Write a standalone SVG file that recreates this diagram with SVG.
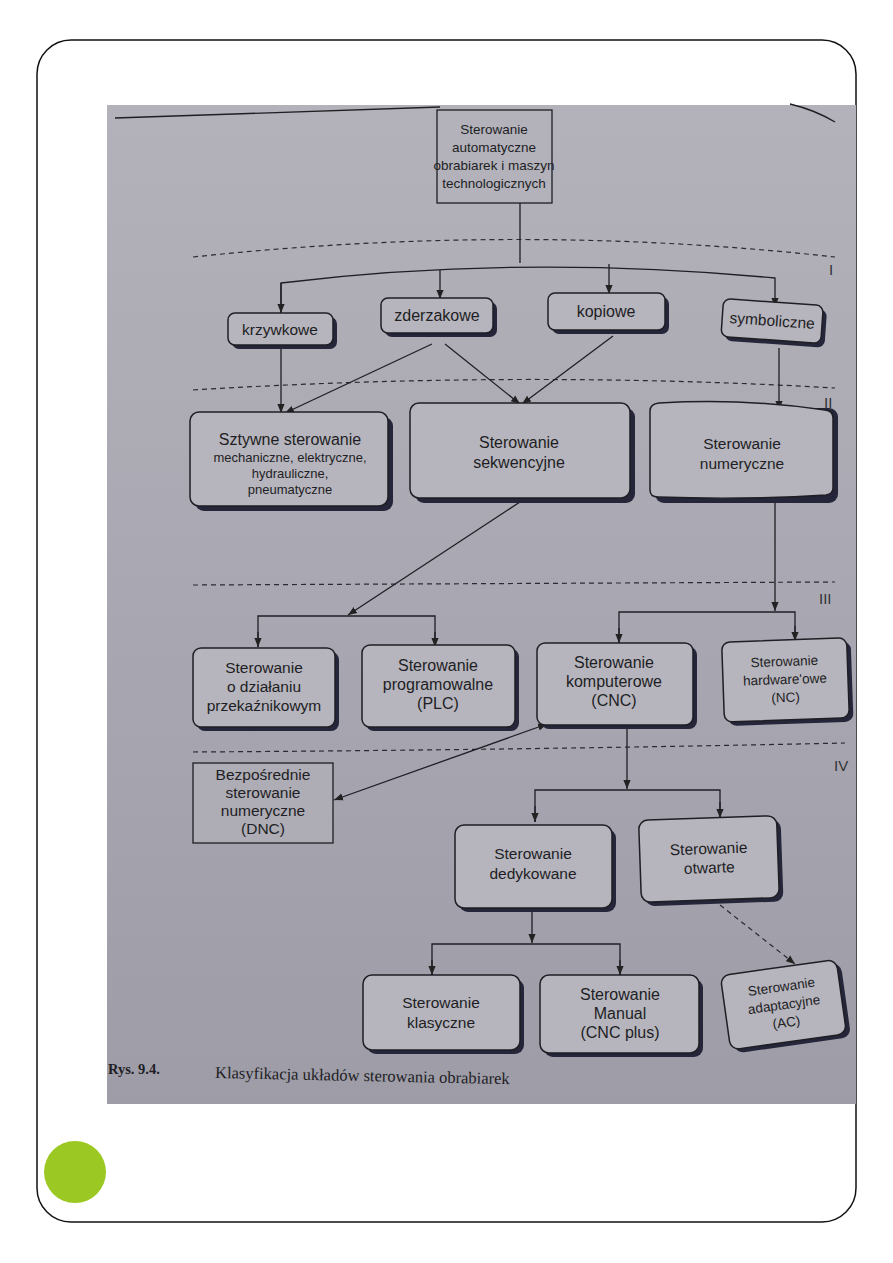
<svg xmlns="http://www.w3.org/2000/svg" width="893" height="1263" viewBox="0 0 893 1263">
<defs>
<linearGradient id="bg" x1="0" y1="0" x2="0" y2="1">
<stop offset="0" stop-color="#b3b2ba"/>
<stop offset="0.5" stop-color="#a9a8b2"/>
<stop offset="1" stop-color="#9d9ca7"/>
</linearGradient>
<marker id="ah" viewBox="0 0 10 10" refX="10" refY="5" markerWidth="9" markerHeight="9" markerUnits="userSpaceOnUse" orient="auto-start-reverse">
<path d="M0,1 L10,5 L0,9 Z" fill="#222"/>
</marker>
<style>
.t{font-family:"Liberation Sans",Arial,sans-serif;fill:#1e1e24;text-anchor:middle;font-size:15.5px}
.tb{font-size:16px}
.ts{font-size:13px}
.tr{font-size:13.5px}
.tn{font-size:13.5px}
.b{fill:#b6b5bd;stroke:#1e1e24;stroke-width:1.5}
.sh{fill:#26263a}
.c{fill:none;stroke:#1e1e24;stroke-width:1.3}
.d{fill:none;stroke:#2a2a30;stroke-width:1.2;stroke-dasharray:5,4}
.lv{font-family:"Liberation Sans",Arial,sans-serif;fill:#333;font-size:15px}
</style>
</defs>
<rect x="0" y="0" width="893" height="1263" fill="#fff"/>
<rect x="37" y="40" width="819" height="1182" rx="34" fill="#fff" stroke="#111" stroke-width="1.5"/>
<circle cx="75" cy="1172" r="31" fill="#9bc823"/>
<rect x="107" y="105" width="749" height="999" fill="url(#bg)"/>
<path d="M115,118 Q280,112 440,107" class="c" stroke-width="1"/>
<path d="M790,104 Q815,110 835,122" class="c" stroke-width="1"/>

<g id="levels">
<path d="M193,257 Q520,222 835,257" class="d"/>
<path d="M193,390 Q520,370 835,388" class="d"/>
<path d="M193,585 L835,582" class="d"/>
<path d="M193,752 Q520,750 845,743" class="d"/>
<text class="lv" x="829" y="275">I</text>
<text class="lv" x="824" y="408">II</text>
<text class="lv" x="819" y="604">III</text>
<text class="lv" x="834" y="771">IV</text>
</g>

<g id="connectors">
<path d="M520,203 V263" class="c"/>
<path d="M281,313 V283 Q520,254 775,278 V307" class="c" marker-end="url(#ah)"/>
<path d="M281,283 V313" class="c" marker-end="url(#ah)"/>
<path d="M440,270 V299" class="c" marker-end="url(#ah)"/>
<path d="M609,264 V294" class="c" marker-end="url(#ah)"/>
<path d="M281,345 V413" class="c" marker-end="url(#ah)"/>
<path d="M432,344 L285,413" class="c" marker-end="url(#ah)"/>
<path d="M445,344 L520,404" class="c" marker-end="url(#ah)"/>
<path d="M613,336 L522,404" class="c" marker-end="url(#ah)"/>
<path d="M779,348 V410" class="c" marker-end="url(#ah)"/>
<path d="M520,502 L348,615" class="c" marker-end="url(#ah)"/>
<path d="M258,647 V616 H435 V647" class="c"/>
<path d="M258,632 V647" class="c" marker-end="url(#ah)"/>
<path d="M435,632 V647" class="c" marker-end="url(#ah)"/>
<path d="M775,502 V611" class="c" marker-end="url(#ah)"/>
<path d="M619,643 V612 H795 V641" class="c"/>
<path d="M619,628 V643" class="c" marker-end="url(#ah)"/>
<path d="M795,626 V641" class="c" marker-end="url(#ah)"/>
<path d="M547,724 L334,800" class="c" marker-start="url(#ah)" marker-end="url(#ah)"/>
<path d="M627,727 V789" class="c" marker-end="url(#ah)"/>
<path d="M535,822 V790 H720 V818" class="c"/>
<path d="M535,806 V822" class="c" marker-end="url(#ah)"/>
<path d="M720,802 V818" class="c" marker-end="url(#ah)"/>
<path d="M532,910 V943" class="c" marker-end="url(#ah)"/>
<path d="M432,975 V944 H620 V975" class="c"/>
<path d="M432,960 V975" class="c" marker-end="url(#ah)"/>
<path d="M620,960 V975" class="c" marker-end="url(#ah)"/>
<path d="M720,905 L795,964" class="d" marker-end="url(#ah)"/>
</g>

<g id="n-root">
<rect x="437" y="110" width="115" height="93" fill="#b3b2ba" stroke="#1e1e24" stroke-width="1.3"/>
<text class="t tr" x="494" y="134">Sterowanie</text>
<text class="t tr" x="494" y="152">automatyczne</text>
<text class="t tr" x="494" y="170">obrabiarek i maszyn</text>
<text class="t tr" x="494" y="188">technologicznych</text>
</g>

<g id="n-krzywkowe">
<rect x="232" y="317" width="105" height="32" rx="7" class="sh"/>
<rect x="228" y="313" width="105" height="32" rx="7" class="b"/>
<text class="t" x="280" y="335">krzywkowe</text>
</g>
<g id="n-zderzakowe">
<rect x="385" y="302" width="112" height="35" rx="7" class="sh"/>
<rect x="381" y="298" width="112" height="35" rx="7" class="b"/>
<text class="t tb" x="437" y="321">zderzakowe</text>
</g>
<g id="n-kopiowe">
<rect x="552" y="297" width="117" height="37" rx="7" class="sh"/>
<rect x="548" y="293" width="117" height="37" rx="7" class="b"/>
<text class="t tb" x="606" y="317">kopiowe</text>
</g>
<g id="n-symboliczne" transform="rotate(4 772 323)">
<rect x="726" y="306" width="100" height="38" rx="7" class="sh"/>
<rect x="722" y="302" width="100" height="38" rx="7" class="b"/>
<text class="t" x="772" y="326">symboliczne</text>
</g>

<g id="n-sztywne">
<rect x="195" y="417" width="198" height="94" rx="9" class="sh"/>
<rect x="190" y="412" width="198" height="94" rx="9" class="b"/>
<text class="t tb" x="290" y="445">Sztywne sterowanie</text>
<text class="t ts" x="290" y="462">mechaniczne, elektryczne,</text>
<text class="t ts" x="290" y="478">hydrauliczne,</text>
<text class="t ts" x="290" y="494">pneumatyczne</text>
</g>
<g id="n-sekwencyjne">
<rect x="415" y="408" width="220" height="95" rx="9" class="sh"/>
<rect x="410" y="403" width="220" height="95" rx="9" class="b"/>
<text class="t tb" x="519" y="448">Sterowanie</text>
<text class="t tb" x="519" y="468">sekwencyjne</text>
</g>
<g id="n-numeryczne">
<rect x="655" y="408" width="183" height="95" rx="9" class="sh"/>
<path d="M659,403 Q745,398 825,410 Q833,411 833,418 V488 Q833,494 826,495 Q745,500 658,497 Q650,497 650,490 V411 Q650,404 659,403 Z" class="b"/>
<text class="t" x="742" y="449">Sterowanie</text>
<text class="t" x="742" y="469">numeryczne</text>
</g>

<g id="n-przekaznikowym">
<rect x="197" y="652" width="142" height="79" rx="8" class="sh"/>
<rect x="193" y="648" width="142" height="79" rx="8" class="b"/>
<text class="t" x="264" y="673">Sterowanie</text>
<text class="t" x="264" y="692">o działaniu</text>
<text class="t" x="264" y="711">przekaźnikowym</text>
</g>
<g id="n-plc">
<rect x="366" y="649" width="153" height="82" rx="8" class="sh"/>
<rect x="362" y="645" width="153" height="82" rx="8" class="b"/>
<text class="t tb" x="438" y="671">Sterowanie</text>
<text class="t tb" x="438" y="690">programowalne</text>
<text class="t tb" x="438" y="709">(PLC)</text>
</g>
<g id="n-cnc">
<rect x="541" y="647" width="156" height="82" rx="8" class="sh"/>
<rect x="537" y="643" width="156" height="82" rx="8" class="b"/>
<text class="t tb" x="614" y="668">Sterowanie</text>
<text class="t tb" x="614" y="687">komputerowe</text>
<text class="t tb" x="614" y="706">(CNC)</text>
</g>
<g id="n-nc" transform="rotate(-2 785 680)">
<rect x="727" y="644" width="125" height="80" rx="8" class="sh"/>
<rect x="723" y="640" width="125" height="80" rx="8" class="b"/>
<text class="t tn" x="785" y="666">Sterowanie</text>
<text class="t tn" x="785" y="684">hardware'owe</text>
<text class="t tn" x="785" y="702">(NC)</text>
</g>

<g id="n-dnc">
<rect x="193" y="763" width="140" height="80" fill="#aeadb6" stroke="#1e1e24" stroke-width="1.3"/>
<text class="t" x="263" y="780">Bezpośrednie</text>
<text class="t" x="263" y="798">sterowanie</text>
<text class="t" x="263" y="816">numeryczne</text>
<text class="t" x="263" y="834">(DNC)</text>
</g>

<g id="n-dedykowane">
<rect x="459" y="829" width="157" height="83" rx="9" class="sh"/>
<rect x="455" y="825" width="157" height="83" rx="9" class="b"/>
<text class="t" x="533" y="859">Sterowanie</text>
<text class="t" x="533" y="879">dedykowane</text>
</g>
<g id="n-otwarte" transform="rotate(-2 709 860)">
<rect x="644" y="822" width="138" height="82" rx="9" class="sh"/>
<rect x="640" y="818" width="138" height="82" rx="9" class="b"/>
<text class="t" x="709" y="854">Sterowanie</text>
<text class="t" x="709" y="873">otwarte</text>
</g>

<g id="n-klasyczne">
<rect x="367" y="979" width="157" height="75" rx="9" class="sh"/>
<rect x="363" y="975" width="157" height="75" rx="9" class="b"/>
<text class="t" x="441" y="1008">Sterowanie</text>
<text class="t" x="441" y="1028">klasyczne</text>
</g>
<g id="n-manual">
<rect x="544" y="979" width="159" height="78" rx="9" class="sh"/>
<rect x="540" y="975" width="159" height="78" rx="9" class="b"/>
<text class="t tb" x="620" y="1000">Sterowanie</text>
<text class="t tb" x="620" y="1019">Manual</text>
<text class="t tb" x="620" y="1038">(CNC plus)</text>
</g>
<g id="n-adaptacyjne" transform="rotate(-8 785 1005)">
<rect x="729" y="971" width="117" height="75" rx="9" class="sh"/>
<rect x="725" y="967" width="117" height="75" rx="9" class="b"/>
<text class="t tn" x="784" y="991">Sterowanie</text>
<text class="t tn" x="784" y="1009">adaptacyjne</text>
<text class="t tn" x="784" y="1027">(AC)</text>
</g>

<g id="caption">
<text x="108" y="1074" font-family="Liberation Serif,'Times New Roman',serif" font-weight="bold" font-size="14.5" fill="#1e1e24">Rys. 9.4.</text>
<text x="215" y="1078" font-family="Liberation Serif,'Times New Roman',serif" font-size="16.5" fill="#1e1e24" transform="rotate(1.2 215 1078)">Klasyfikacja układów sterowania obrabiarek</text>
</g>
</svg>
